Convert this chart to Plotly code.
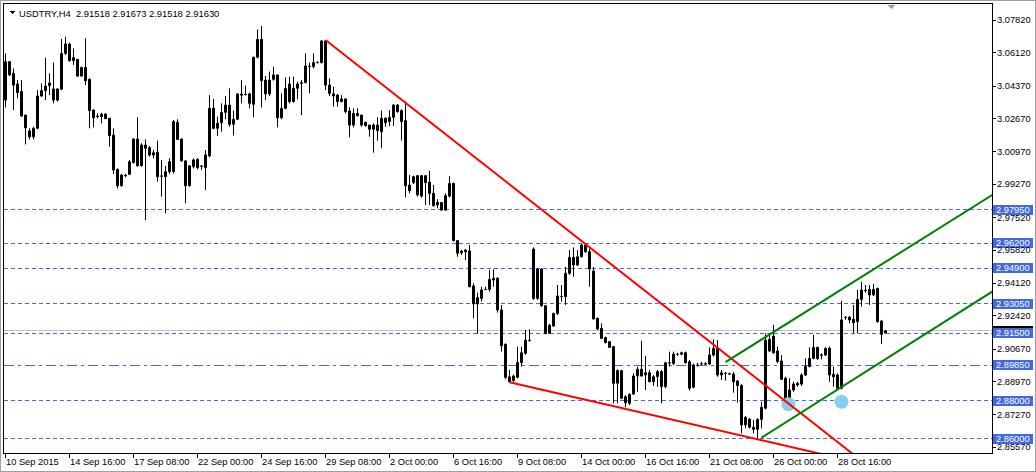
import plotly.graph_objects as go

# ---------------- data ----------------
bar_open = [3.0365,3.0565,3.0504,3.0449,3.0409,3.0287,3.0204,3.0174,3.0218,3.0386,
            3.0414,3.0440,3.0423,3.0365,3.0421,3.0608,3.0657,3.0570,3.0577,3.0490,
            3.0535,3.0473,3.0313,3.0282,3.0279,3.0292,3.0270,3.0183,3.0004,2.9919,
            2.9971,2.9978,3.0039,3.0162,3.0023,3.0131,3.0117,3.0079,3.0093,2.9968,
            2.9966,2.9992,2.9992,3.0249,3.0162,3.0048,2.9919,3.0018,3.0056,3.0022,
            3.0013,3.0074,3.0322,3.0218,3.0247,3.0301,3.0339,3.0239,3.0265,3.0390,
            3.0394,3.0397,3.0343,3.0588,3.0681,3.0469,3.0397,3.0473,3.0496,3.0273,
            3.0322,3.0449,3.0357,3.0426,3.0452,3.0456,3.0542,3.0539,3.0560,3.0560,
            3.0673,3.0443,3.0397,3.0391,3.0357,3.0371,3.0308,3.0235,3.0296,3.0287,
            3.0249,3.0235,3.0213,3.0235,3.0200,3.0270,3.0253,3.0275,3.0339,3.0310,
            3.0258,2.9923,2.9935,2.9971,2.9865,2.9971,2.9938,2.9879,2.9832,2.9831,
            2.9792,2.9865,2.9931,2.9633,2.9570,2.9575,2.9579,2.9397,2.9303,2.9332,
            2.9379,2.9379,2.9428,2.9437,2.9272,2.9093,2.8898,2.8904,2.8921,2.8997,
            2.9046,2.9112,2.9589,2.9332,2.9485,2.9294,2.9150,2.9188,2.9254,2.9341,
            2.9341,2.9463,2.9546,2.9506,2.9549,2.9610,2.9575,2.9475,2.9228,2.9176,
            2.9128,2.9107,2.9081,2.8890,2.8956,2.8820,2.8786,2.8834,2.8928,2.8963,
            2.8933,2.8945,2.8898,2.8924,2.8951,2.8872,2.8997,2.8993,2.9041,2.9041,
            2.9049,2.9002,2.8869,2.8983,2.8990,2.8992,2.8990,2.9037,2.9072,2.8933,
            2.8942,2.8940,2.8938,2.8902,2.8878,2.8673,2.8704,2.8650,2.8650,2.8702,
            2.8760,2.9119,2.9136,2.9058,2.9006,2.8916,2.8812,2.8855,2.8881,2.8886,
            2.8933,2.8977,2.9020,2.9077,2.9038,2.9037,2.9072,2.8937,2.8933,2.8864,
            2.9232,2.9220,2.9223,2.9211,2.9327,2.9374,2.9350,2.9350,2.9384,2.9214,
            2.91518]
bar_high = [3.0608,3.0568,3.0530,3.0469,3.0469,3.0287,3.0218,3.0226,3.0417,3.0452,
            3.0586,3.0504,3.0560,3.0426,3.0683,3.0695,3.0664,3.0634,3.0577,3.0539,
            3.0687,3.0478,3.0317,3.0296,3.0299,3.0296,3.0270,3.0218,3.0009,2.9980,
            2.9980,3.0053,3.0166,3.0275,3.0140,3.0160,3.0126,3.0105,3.0154,3.0053,
            3.0022,3.0062,3.0261,3.0265,3.0166,3.0053,3.0027,3.0062,3.0062,3.0027,
            3.0105,3.0391,3.0371,3.0279,3.0348,3.0386,3.0426,3.0310,3.0400,3.0469,
            3.0440,3.0404,3.0591,3.0733,3.0751,3.0490,3.0513,3.0539,3.0496,3.0400,
            3.0483,3.0487,3.0487,3.0461,3.0469,3.0608,3.0560,3.0608,3.0565,3.0678,
            3.0678,3.0478,3.0435,3.0397,3.0391,3.0371,3.0327,3.0322,3.0322,3.0287,
            3.0253,3.0235,3.0244,3.0275,3.0310,3.0275,3.0313,3.0344,3.0344,3.0317,
            3.0357,2.9975,2.9971,2.9975,2.9975,2.9971,2.9997,2.9923,2.9848,2.9831,
            2.9879,2.9969,2.9935,2.9636,2.9584,2.9588,2.9610,2.9411,2.9362,2.9393,
            2.9393,2.9480,2.9484,2.9442,2.9298,2.9098,2.8959,2.8935,2.9081,2.9081,
            2.9167,2.9171,2.9598,2.9489,2.9489,2.9298,2.9199,2.9258,2.9402,2.9402,
            2.9497,2.9584,2.9598,2.9584,2.9615,2.9620,2.9592,2.9497,2.9233,2.9202,
            2.9133,2.9107,2.9081,2.8963,2.8959,2.8829,2.8838,2.8942,2.8977,2.9112,
            2.9032,2.8959,2.8933,2.8959,2.8959,2.9002,2.9055,2.9055,2.9049,2.9055,
            2.9055,2.9011,2.8993,2.8997,2.9002,2.9000,2.9077,2.9119,2.9115,2.8959,
            2.8949,2.8945,2.8950,2.8907,2.8886,2.8720,2.8707,2.8699,2.8707,2.8794,
            2.9150,2.9147,2.9194,2.9081,2.9037,2.8924,2.8916,2.8898,2.8898,2.8942,
            2.9020,2.9077,2.9142,2.9081,2.9046,2.9077,2.9081,2.8977,2.8942,2.9319,
            2.9240,2.9240,2.9298,2.9376,2.9419,2.9402,2.9402,2.9407,2.9388,2.9220,
            2.91673]
bar_low = [3.0327,3.0490,3.0313,3.0374,3.0279,3.0134,3.0160,3.0160,3.0213,3.0383,
           3.0365,3.0391,3.0348,3.0357,3.0417,3.0600,3.0565,3.0548,3.0487,3.0487,
           3.0443,3.0218,3.0223,3.0270,3.0244,3.0266,3.0122,2.9980,2.9905,2.9914,
           2.9963,2.9975,3.0035,3.0018,3.0018,2.9740,3.0070,3.0062,2.9940,2.9862,
           2.9775,2.9980,2.9983,3.0157,3.0044,2.9827,2.9914,3.0009,3.0004,3.0001,
           2.9897,3.0067,3.0213,3.0178,3.0200,3.0265,3.0226,3.0180,3.0261,3.0348,
           3.0390,3.0322,3.0275,3.0582,3.0327,3.0365,3.0386,3.0466,3.0223,3.0265,
           3.0317,3.0348,3.0352,3.0369,3.0287,3.0452,3.0400,3.0530,3.0556,3.0556,
           3.0417,3.0386,3.0331,3.0331,3.0353,3.0296,3.0171,3.0223,3.0279,3.0226,
           3.0226,3.0174,3.0091,3.0154,3.0114,3.0226,3.0230,3.0230,3.0299,3.0154,
           2.9858,2.9879,2.9928,2.9862,2.9857,2.9819,2.9819,2.9810,2.9801,2.9789,
           2.9789,2.9858,2.9628,2.9549,2.9558,2.9532,2.9390,2.9228,2.9147,2.9315,
           2.9376,2.9367,2.9393,2.9258,2.9055,2.8911,2.8895,2.8898,2.8916,2.8977,
           2.9038,2.9107,2.9324,2.9324,2.9289,2.9145,2.9147,2.9185,2.9246,2.9315,
           2.9298,2.9454,2.9445,2.9501,2.9546,2.9570,2.9393,2.9223,2.9167,2.9121,
           2.9098,2.9076,2.8786,2.8786,2.8807,2.8765,2.8777,2.8829,2.8846,2.8924,
           2.8855,2.8895,2.8876,2.8872,2.8786,2.8864,2.8977,2.8985,2.9032,2.9036,
           2.8993,2.8852,2.8864,2.8977,2.8985,2.8988,2.8985,2.9029,2.8924,2.8907,
           2.8904,2.8933,2.8841,2.8789,2.8629,2.8655,2.8655,2.8629,2.8595,2.8655,
           2.8754,2.9053,2.9043,2.8994,2.8907,2.8806,2.8794,2.8846,2.8872,2.8876,
           2.8928,2.8973,2.9015,2.9011,2.9015,2.9032,2.8898,2.8872,2.8859,2.8859,
           2.9220,2.9202,2.9150,2.9150,2.9289,2.9362,2.9298,2.9345,2.9206,2.9095,
           2.91518]
bar_close = [3.0565,3.0496,3.0443,3.0404,3.0282,3.0221,3.0174,3.0218,3.0386,3.0414,
             3.0438,3.0454,3.0365,3.0423,3.0608,3.0657,3.0570,3.0586,3.0490,3.0535,
             3.0466,3.0310,3.0273,3.0280,3.0291,3.0268,3.0180,3.0001,2.9919,2.9975,
             2.9973,3.0044,3.0162,3.0023,3.0131,3.0114,3.0079,3.0091,2.9966,2.9970,
             2.9992,3.0044,3.0253,3.0160,3.0049,2.9919,3.0022,3.0053,3.0013,3.0020,
             3.0079,3.0322,3.0218,3.0244,3.0301,3.0339,3.0239,3.0265,3.0397,3.0397,
             3.0393,3.0348,3.0588,3.0681,3.0466,3.0397,3.0469,3.0496,3.0273,3.0322,
             3.0426,3.0357,3.0426,3.0449,3.0456,3.0542,3.0540,3.0560,3.0562,3.0673,
             3.0443,3.0400,3.0386,3.0357,3.0371,3.0305,3.0235,3.0296,3.0284,3.0235,
             3.0232,3.0213,3.0235,3.0206,3.0270,3.0247,3.0275,3.0339,3.0305,3.0253,
             2.9919,2.9893,2.9966,2.9871,2.9971,2.9935,2.9879,2.9815,2.9819,2.9792,
             2.9867,2.9931,2.9633,2.9567,2.9579,2.9584,2.9393,2.9303,2.9336,2.9376,
             2.9378,2.9431,2.9437,2.9272,2.9086,2.8921,2.8924,2.8928,2.8999,2.9049,
             2.9115,2.9114,2.9332,2.9485,2.9294,2.9150,2.9193,2.9254,2.9345,2.9343,
             2.9463,2.9546,2.9506,2.9549,2.9610,2.9575,2.9485,2.9225,2.9173,2.9124,
             2.9102,2.9077,2.8890,2.8956,2.8812,2.8789,2.8832,2.8928,2.8963,2.8928,
             2.8945,2.8898,2.8924,2.8951,2.8872,2.8997,2.8995,2.9042,2.9042,2.9049,
             2.8997,2.8864,2.8985,2.8985,2.8992,2.8990,2.9037,2.9072,2.8933,2.8945,
             2.8941,2.8938,2.8898,2.8878,2.8673,2.8713,2.8661,2.8661,2.8702,2.8765,
             2.9115,2.9058,2.9049,2.9003,2.8911,2.8812,2.8855,2.8886,2.8890,2.8933,
             2.8977,2.9020,2.9077,2.9020,2.9036,2.9072,2.8933,2.8924,2.8864,2.9220,
             2.9234,2.9234,2.9206,2.9327,2.9376,2.9372,2.9379,2.9379,2.9211,2.9145,
             2.91630]
bar_index = list(range(len(bar_open)))

time_tick_index = [0, 16, 32, 48, 64, 80, 96, 112, 128, 144, 160, 176, 192, 208]
time_tick_labels = ["10 Sep 2015", "14 Sep 16:00", "17 Sep 08:00", "22 Sep 00:00",
                    "24 Sep 16:00", "29 Sep 08:00", "2 Oct 00:00", "6 Oct 16:00",
                    "9 Oct 08:00", "14 Oct 00:00", "16 Oct 16:00", "21 Oct 08:00",
                    "26 Oct 00:00", "28 Oct 16:00"]
price_ticks = [3.0782, 3.0612, 3.0437, 3.0267, 3.0097, 2.9927, 2.9752,
               2.9582, 2.9412, 2.9242, 2.9067, 2.8897, 2.8727, 2.8557]
level_prices = [2.9795, 2.9620, 2.9490, 2.9305, 2.9150, 2.8985, 2.8800, 2.8600]
bid_price = 2.9163
title_text = "USDTRY,H4\u00a0\u00a02.91518 2.91673 2.91518 2.91630"

red_upper_x = [80, 215]
red_upper_y = [3.0678, 2.8470]
red_lower_x = [126, 215]
red_lower_y = [2.8895, 2.8469]
green_upper_x = [180, 250]
green_upper_y = [2.9000, 2.9914]
green_lower_x = [189, 250]
green_lower_y = [2.8607, 2.9411]
circle_x = [195.75, 209]
circle_y = [2.8781, 2.8794]

# ---------------- layout helpers ----------------
W, H = 1036, 472
ML, MR, MT, MB = 4, 44, 4, 19
PW, PH = W - ML - MR, H - MT - MB
FONT = "Liberation Sans"
BLUE = "#4169E1"


def px_x(px):
    return (px - ML) / PW


def px_y(py):
    return 1 - (py - MT) / PH


fig = go.Figure()

# wicks
wick_x, wick_y = [], []
for i, hi, lo in zip(bar_index, bar_high, bar_low):
    wick_x += [i, i, None]
    wick_y += [lo, hi, None]
fig.add_trace(go.Scatter(x=wick_x, y=wick_y, mode="lines",
                         line=dict(color="black", width=1),
                         showlegend=False, hoverinfo="skip"))

# bodies
body_base = [min(o, c) for o, c in zip(bar_open, bar_close)]
body_len = [abs(c - o) for o, c in zip(bar_open, bar_close)]
body_fill = ["white" if c >= o else "black" for o, c in zip(bar_open, bar_close)]
fig.add_trace(go.Bar(x=bar_index, y=body_len, base=body_base, width=0.5,
                     marker=dict(color=body_fill, line=dict(color="black", width=1)),
                     showlegend=False, hoverinfo="skip"))

fig.add_trace(go.Scatter(x=circle_x, y=circle_y, mode="markers",
                         marker=dict(size=14, color="#87CEEB", line=dict(width=0)),
                         showlegend=False, hoverinfo="skip"))

for xs, ys, col in [(red_upper_x, red_upper_y, "#FF0000"),
                    (red_lower_x, red_lower_y, "#FF0000"),
                    (green_upper_x, green_upper_y, "#008000"),
                    (green_lower_x, green_lower_y, "#008000")]:
    fig.add_trace(go.Scatter(x=xs, y=ys, mode="lines",
                             line=dict(color=col, width=2),
                             showlegend=False, hoverinfo="skip"))

shapes = []
shapes.append(dict(type="line", xref="paper", x0=0, x1=1, yref="y",
                   y0=bid_price, y1=bid_price, layer="below",
                   line=dict(color="#C0C0C0", width=1)))
for p in level_prices:
    dash = "10px,4px,3px,4px" if abs(p - 2.8985) < 1e-6 else "4px,3px"
    shapes.append(dict(type="line", xref="paper", x0=0, x1=1, yref="y",
                       y0=p, y1=p, layer="below",
                       line=dict(color=BLUE, width=1, dash=dash)))
# price tags (bid tag first, mostly hidden behind the 2.91500 tag)
tag_list = [(bid_price, "black")] + [(p, BLUE) for p in level_prices]
for p, col in tag_list:
    shapes.append(dict(type="rect", xref="paper", x0=px_x(993), x1=px_x(1033),
                       yref="y", ysizemode="pixel", yanchor=p, y0=-5, y1=5,
                       fillcolor=col, line=dict(width=0), layer="above"))
# title triangle
shapes.append(dict(type="path", xref="paper", yref="paper",
                   path=f"M {px_x(9.5)},{px_y(11)} L {px_x(15.5)},{px_y(11)} L {px_x(12.5)},{px_y(14.5)} Z",
                   fillcolor="black", line=dict(width=0)))
# chart shift marker
shapes.append(dict(type="path", xref="paper", yref="paper",
                   path=f"M {px_x(887)},{px_y(4.5)} L {px_x(896)},{px_y(4.5)} L {px_x(891.5)},{px_y(9)} Z",
                   fillcolor="#A0A0A0", line=dict(width=0)))
# outer window frame
shapes.append(dict(type="rect", xref="paper", yref="paper",
                   x0=px_x(0.5), x1=px_x(W - 0.5), y0=px_y(H - 0.5), y1=px_y(0.5),
                   line=dict(color="#A0A0A0", width=1)))

annotations = [dict(xref="paper", yref="paper", x=px_x(19), y=px_y(13.5),
                    xanchor="left", yanchor="middle", showarrow=False,
                    borderpad=0, borderwidth=0,
                    text=title_text, font=dict(family=FONT, size=9.4, color="black"))]
# y tick labels
for v in price_ticks:
    annotations.append(dict(xref="paper", yref="y", x=px_x(997), y=v,
                            xanchor="left", yanchor="middle", showarrow=False,
                            borderpad=0, borderwidth=0, text=f"{v:.5f}",
                            font=dict(family=FONT, size=9.3, color="black")))
# tag texts (level lines only; the bid tag is covered in the reference)
for p in level_prices:
    annotations.append(dict(xref="paper", yref="y", x=px_x(996), y=p,
                            xanchor="left", yanchor="middle", showarrow=False,
                            borderpad=0, borderwidth=0, text=f"{p:.5f}",
                            font=dict(family=FONT, size=9.3, color="white")))
# x tick labels
for t, lab in zip(time_tick_index, time_tick_labels):
    annotations.append(dict(xref="x", yref="paper", x=t, y=px_y(462),
                            xanchor="left", yanchor="middle", showarrow=False,
                            borderpad=0, borderwidth=0, text=lab,
                            font=dict(family=FONT, size=9.3, color="black")))

fig.update_layout(
    width=W, height=H,
    margin=dict(l=ML, r=MR, t=MT, b=MB, pad=0, autoexpand=False),
    paper_bgcolor="white", plot_bgcolor="white",
    barmode="overlay", showlegend=False,
    shapes=shapes, annotations=annotations,
    xaxis=dict(range=[-0.375, 246.625], automargin=False,
               tickmode="array", tickvals=time_tick_index, showticklabels=False,
               ticks="outside", ticklen=4, tickcolor="black", tickwidth=1,
               showgrid=False, zeroline=False, showline=True, mirror=True,
               linecolor="black", linewidth=1, fixedrange=True),
    yaxis=dict(range=[2.852694, 3.086533], side="right", automargin=False,
               tickmode="array", tickvals=price_ticks, showticklabels=False,
               ticks="outside", ticklen=3, tickcolor="black", tickwidth=1,
               showgrid=False, zeroline=False, showline=True, mirror=True,
               linecolor="black", linewidth=1, fixedrange=True),
)

post_js = (
    "document.body.style.margin='0px';document.body.style.overflow='hidden';"
    "function crisp(){document.querySelectorAll('.shapelayer path').forEach("
    "function(p){p.style.shapeRendering='crispEdges';});}"
    "crisp();setTimeout(crisp,30);"
)
fig.write_html("out.html", config={"displayModeBar": False}, post_script=post_js)
